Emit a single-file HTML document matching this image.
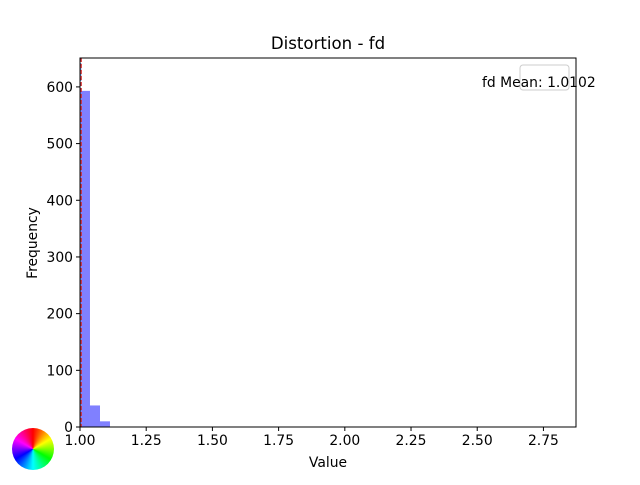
<!DOCTYPE html>
<html><head><meta charset="utf-8"><style>
body{margin:0;background:#fff;font-family:"Liberation Sans","DejaVu Sans",sans-serif}
svg text{font-family:"DejaVu Sans","Liberation Sans",sans-serif}
</style></head><body>
<svg id="c" width="640" height="480">
<defs><clipPath id="wc"><circle cx="33" cy="449" r="21"/></clipPath></defs>
<g clip-path="url(#wc)">
<foreignObject x="12" y="428" width="42" height="42"><div xmlns="http://www.w3.org/1999/xhtml" style="width:42px;height:42px;background:conic-gradient(#ff0000,#ffff00 60deg,#00ff00 120deg,#00ffff 180deg,#0000ff 240deg,#ff00ff 300deg,#ff0000)"></div></foreignObject>
</g>
</svg>
<script>
const binEdges=[1.0,1.0377,1.0755,1.1132];
const counts=[593,38,10];
const meanValue=1.0102;
const medianValue=1.003;
const xTicks=[1.00,1.25,1.50,1.75,2.00,2.25,2.50,2.75];
const yTicks=[0,100,200,300,400,500,600];
const L=80,R=576,T=58,B=427,xmin=1.0,xmax=2.873,ymax=651;
const xs=v=>L+(v-xmin)/(xmax-xmin)*(R-L);
const ys=v=>B-v/ymax*(B-T);
const svg=document.getElementById('c');
const NS='http://www.w3.org/2000/svg';
function mk(t,a,p){const e=document.createElementNS(NS,t);for(const k in a)e.setAttribute(k,a[k]);(p||svg).appendChild(e);return e;}
counts.forEach((c,i)=>{
 const r=mk('rect',{x:xs(binEdges[i]),y:ys(c),width:xs(binEdges[i+1])-xs(binEdges[i]),height:B-ys(c),fill:'#8080ff'});
 
 
});
const ml=mk('line',{x1:xs(medianValue),x2:xs(medianValue),y1:T,y2:B,stroke:'#6a8ad8','stroke-width':1,'stroke-dasharray':'3,2'});


const mn=mk('line',{x1:xs(meanValue)-1.5,x2:xs(meanValue)-1.5,y1:T,y2:B,stroke:'#d62728','stroke-width':1.2,'stroke-dasharray':'4,2'});


const fr=mk('rect',{x:L,y:T,width:R-L,height:B-T,fill:'none',stroke:'#000','stroke-width':1});


xTicks.forEach(v=>{const x=xs(v);mk('line',{x1:x,x2:x,y1:B,y2:B+4,stroke:'#000'});
 const t=mk('text',{x:x,y:B+18,'text-anchor':'middle','font-size':13.9});t.textContent=v.toFixed(2);
 
 });
yTicks.forEach(v=>{const y=ys(v);mk('line',{x1:L-4,x2:L,y1:y,y2:y,stroke:'#000'});
 const t=mk('text',{x:L-7,y:y+5,'text-anchor':'end','font-size':13.9});t.textContent=v;
 
 });
const tt=mk('text',{x:328,y:49,'text-anchor':'middle','font-size':16.6});tt.textContent='Distortion - fd';


const xt=mk('text',{x:328,y:467,'text-anchor':'middle','font-size':13.9});xt.textContent='Value';


const yt=mk('text',{x:0,y:0,'text-anchor':'middle','font-size':13.9,transform:'translate(37,243) rotate(-90)'});yt.textContent='Frequency';


const lg=mk('rect',{x:520,y:65,width:49,height:25,rx:3,fill:'#fff','fill-opacity':0.8,stroke:'#ccc'});


const lt=mk('text',{x:482,y:87,'font-size':13.9});lt.textContent='fd Mean: '+meanValue.toFixed(4);


</script>
</body></html>
